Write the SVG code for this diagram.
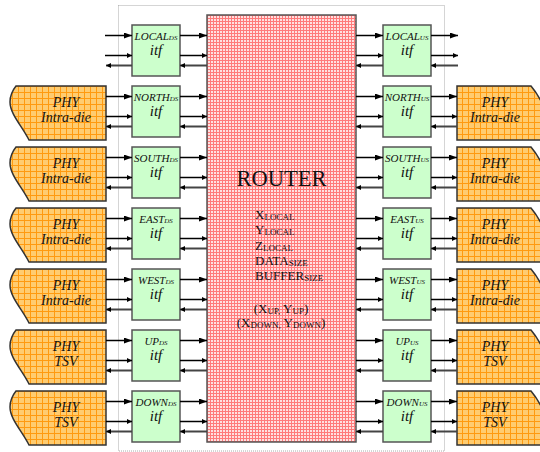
<svg xmlns="http://www.w3.org/2000/svg" xmlns:xlink="http://www.w3.org/1999/xlink" width="540" height="452" viewBox="0 0 540 452">
<style>
.itf rect{fill:#ccffcc;stroke:#555;stroke-width:1.5}
.lbl{font-family:"Liberation Serif","Times New Roman",serif;font-style:italic;font-size:11px;fill:#111;text-anchor:middle}
.lbl .s{font-size:7px}
.itft{font-family:"Liberation Serif","Times New Roman",serif;font-style:italic;font-size:15px;fill:#111;text-anchor:middle}
.phy path{fill:url(#pg);stroke:#333;stroke-width:1.5}
.pt{font-family:"Liberation Serif","Times New Roman",serif;font-style:italic;font-size:14px;fill:#111;text-anchor:middle}
.rt{font-family:"Liberation Serif","Times New Roman",serif;fill:#111}
.rt .s{font-size:9px}
.a1{stroke:#000;stroke-width:1.5;marker-end:url(#mb)}
.a2{stroke:#000;stroke-width:1.5;marker-end:url(#ms)}
.a3{stroke:#444;stroke-width:2;marker-end:url(#ms)}
</style>
<defs>
<pattern id="pg" width="6" height="6" patternUnits="userSpaceOnUse"><rect width="6" height="6" fill="#ffcc70"/><path d="M0,0.5H6M0.5,0V6" stroke="#ff9a10" stroke-width="1"/></pattern>
<pattern id="pr" width="3" height="3" patternUnits="userSpaceOnUse"><rect width="3" height="3" fill="#ffe0e0"/><path d="M0,0.5H3M0.5,0V3" stroke="#ff7a7a" stroke-width="1"/></pattern>
<marker id="mb" viewBox="0 0 8 6" refX="8" refY="3" markerWidth="8" markerHeight="6" markerUnits="userSpaceOnUse" orient="auto"><path d="M0,0L8,3L0,6z" fill="#000"/></marker>
<marker id="ms" viewBox="0 0 5 5" refX="5" refY="2.5" markerWidth="5" markerHeight="5" markerUnits="userSpaceOnUse" orient="auto"><path d="M0,0L5,2.5L0,5z" fill="#000"/></marker>
</defs>
<rect x="118.5" y="5.5" width="326" height="445.5" fill="none" stroke="#aaa" stroke-width="1" stroke-dasharray="1,1"/>
<g id="router">
<rect x="207" y="15" width="149" height="427" fill="url(#pr)" stroke="#555" stroke-width="1.5"/>
<text class="rt" x="281.5" y="186" font-size="22.5" text-anchor="middle">ROUTER</text>
<text class="rt" font-size="13"><tspan x="255" y="219">X<tspan class="s" dy="1">LOCAL</tspan></tspan><tspan x="255" y="234">Y<tspan class="s" dy="1">LOCAL</tspan></tspan><tspan x="255" y="249.5">Z<tspan class="s" dy="1">LOCAL</tspan></tspan><tspan x="255" y="265">DATA<tspan class="s" dy="1">SIZE</tspan></tspan><tspan x="255" y="280">BUFFER<tspan class="s" dy="1">SIZE</tspan></tspan></text>
<text class="rt" font-size="13" x="281" y="312.5" text-anchor="middle">(X<tspan class="s" dy="1">UP,</tspan><tspan dy="-1"> Y</tspan><tspan class="s" dy="1">UP</tspan><tspan dy="-1">)</tspan></text>
<text class="rt" font-size="13" x="281" y="327" text-anchor="middle">(X<tspan class="s" dy="1">DOWN,</tspan><tspan dy="-1"> Y</tspan><tspan class="s" dy="1">DOWN</tspan><tspan dy="-1">)</tspan></text>
</g>
<g id="itf-local-ds" class="itf" transform="translate(0,25)"><rect x="132" y="0" width="48" height="51"/><text class="lbl" x="156" y="14.5">LOCAL<tspan class="s">DS</tspan></text><text class="itft" x="156" y="29.5">itf</text></g>
<g id="itf-north-ds" class="itf" transform="translate(0,86)"><rect x="132" y="0" width="48" height="51"/><text class="lbl" x="156" y="14.5">NORTH<tspan class="s">DS</tspan></text><text class="itft" x="156" y="29.5">itf</text></g>
<g id="itf-south-ds" class="itf" transform="translate(0,147)"><rect x="132" y="0" width="48" height="51"/><text class="lbl" x="156" y="14.5">SOUTH<tspan class="s">DS</tspan></text><text class="itft" x="156" y="29.5">itf</text></g>
<g id="itf-east-ds" class="itf" transform="translate(0,208)"><rect x="132" y="0" width="48" height="51"/><text class="lbl" x="156" y="14.5">EAST<tspan class="s">DS</tspan></text><text class="itft" x="156" y="29.5">itf</text></g>
<g id="itf-west-ds" class="itf" transform="translate(0,269)"><rect x="132" y="0" width="48" height="51"/><text class="lbl" x="156" y="14.5">WEST<tspan class="s">DS</tspan></text><text class="itft" x="156" y="29.5">itf</text></g>
<g id="itf-up-ds" class="itf" transform="translate(0,330)"><rect x="132" y="0" width="48" height="51"/><text class="lbl" x="156" y="14.5">UP<tspan class="s">DS</tspan></text><text class="itft" x="156" y="29.5">itf</text></g>
<g id="itf-down-ds" class="itf" transform="translate(0,391)"><rect x="132" y="0" width="48" height="51"/><text class="lbl" x="156" y="14.5">DOWN<tspan class="s">DS</tspan></text><text class="itft" x="156" y="29.5">itf</text></g>
<g id="itf-local-us" class="itf" transform="translate(0,25)"><rect x="383" y="0" width="48" height="51"/><text class="lbl" x="407" y="14.5">LOCAL<tspan class="s">US</tspan></text><text class="itft" x="407" y="29.5">itf</text></g>
<g id="itf-north-us" class="itf" transform="translate(0,86)"><rect x="383" y="0" width="48" height="51"/><text class="lbl" x="407" y="14.5">NORTH<tspan class="s">US</tspan></text><text class="itft" x="407" y="29.5">itf</text></g>
<g id="itf-south-us" class="itf" transform="translate(0,147)"><rect x="383" y="0" width="48" height="51"/><text class="lbl" x="407" y="14.5">SOUTH<tspan class="s">US</tspan></text><text class="itft" x="407" y="29.5">itf</text></g>
<g id="itf-east-us" class="itf" transform="translate(0,208)"><rect x="383" y="0" width="48" height="51"/><text class="lbl" x="407" y="14.5">EAST<tspan class="s">US</tspan></text><text class="itft" x="407" y="29.5">itf</text></g>
<g id="itf-west-us" class="itf" transform="translate(0,269)"><rect x="383" y="0" width="48" height="51"/><text class="lbl" x="407" y="14.5">WEST<tspan class="s">US</tspan></text><text class="itft" x="407" y="29.5">itf</text></g>
<g id="itf-up-us" class="itf" transform="translate(0,330)"><rect x="383" y="0" width="48" height="51"/><text class="lbl" x="407" y="14.5">UP<tspan class="s">US</tspan></text><text class="itft" x="407" y="29.5">itf</text></g>
<g id="itf-down-us" class="itf" transform="translate(0,391)"><rect x="383" y="0" width="48" height="51"/><text class="lbl" x="407" y="14.5">DOWN<tspan class="s">US</tspan></text><text class="itft" x="407" y="29.5">itf</text></g>
<g id="phy-north-l" class="phy" transform="translate(0,86)"><path d="M16,0H106V54H29C22,40 10,28 10,16C10,10 12,5 16,0Z"/><text class="pt" x="66" y="20.5">PHY</text><text class="pt" x="66" y="36">Intra-die</text></g>
<g id="phy-south-l" class="phy" transform="translate(0,147)"><path d="M16,0H106V54H29C22,40 10,28 10,16C10,10 12,5 16,0Z"/><text class="pt" x="66" y="20.5">PHY</text><text class="pt" x="66" y="36">Intra-die</text></g>
<g id="phy-east-l" class="phy" transform="translate(0,208)"><path d="M16,0H106V54H29C22,40 10,28 10,16C10,10 12,5 16,0Z"/><text class="pt" x="66" y="20.5">PHY</text><text class="pt" x="66" y="36">Intra-die</text></g>
<g id="phy-west-l" class="phy" transform="translate(0,269)"><path d="M16,0H106V54H29C22,40 10,28 10,16C10,10 12,5 16,0Z"/><text class="pt" x="66" y="20.5">PHY</text><text class="pt" x="66" y="36">Intra-die</text></g>
<g id="phy-up-l" class="phy" transform="translate(0,330)"><path d="M16,0H106V54H29C22,40 10,28 10,16C10,10 12,5 16,0Z"/><text class="pt" x="66" y="20.5">PHY</text><text class="pt" x="66" y="36">TSV</text></g>
<g id="phy-down-l" class="phy" transform="translate(0,391)"><path d="M16,0H106V54H29C22,40 10,28 10,16C10,10 12,5 16,0Z"/><text class="pt" x="66" y="20.5">PHY</text><text class="pt" x="66" y="36">TSV</text></g>
<g id="phy-north-r" class="phy" transform="translate(0,86)"><path d="M457,0H531C536,6 541,14 544,22C548,34 552,44 556,54H457Z"/><text class="pt" x="495" y="20.5">PHY</text><text class="pt" x="495" y="36">Intra-die</text></g>
<g id="phy-south-r" class="phy" transform="translate(0,147)"><path d="M457,0H531C536,6 541,14 544,22C548,34 552,44 556,54H457Z"/><text class="pt" x="495" y="20.5">PHY</text><text class="pt" x="495" y="36">Intra-die</text></g>
<g id="phy-east-r" class="phy" transform="translate(0,208)"><path d="M457,0H531C536,6 541,14 544,22C548,34 552,44 556,54H457Z"/><text class="pt" x="495" y="20.5">PHY</text><text class="pt" x="495" y="36">Intra-die</text></g>
<g id="phy-west-r" class="phy" transform="translate(0,269)"><path d="M457,0H531C536,6 541,14 544,22C548,34 552,44 556,54H457Z"/><text class="pt" x="495" y="20.5">PHY</text><text class="pt" x="495" y="36">Intra-die</text></g>
<g id="phy-up-r" class="phy" transform="translate(0,330)"><path d="M457,0H531C536,6 541,14 544,22C548,34 552,44 556,54H457Z"/><text class="pt" x="495" y="20.5">PHY</text><text class="pt" x="495" y="36">TSV</text></g>
<g id="phy-down-r" class="phy" transform="translate(0,391)"><path d="M457,0H531C536,6 541,14 544,22C548,34 552,44 556,54H457Z"/><text class="pt" x="495" y="20.5">PHY</text><text class="pt" x="495" y="36">TSV</text></g>
<g id="connectors">
<line class="a1" x1="105" y1="35.5" x2="132" y2="35.5"/><line class="a1" x1="180" y1="35.5" x2="207" y2="35.5"/><line class="a2" x1="105" y1="55.5" x2="132" y2="55.5"/><line class="a2" x1="180" y1="55.5" x2="207" y2="55.5"/><line class="a3" x1="132" y1="65.5" x2="106" y2="65.5"/><line class="a3" x1="207" y1="65.5" x2="180" y2="65.5"/>
<line class="a1" x1="356" y1="35.5" x2="383" y2="35.5"/><line class="a1" x1="431" y1="35.5" x2="458" y2="35.5"/><line class="a2" x1="356" y1="55.5" x2="383" y2="55.5"/><line class="a2" x1="431" y1="55.5" x2="458" y2="55.5"/><line class="a3" x1="458" y1="65.5" x2="431" y2="65.5"/><line class="a3" x1="383" y1="65.5" x2="356" y2="65.5"/>
<line class="a1" x1="106" y1="96.5" x2="132" y2="96.5"/><line class="a1" x1="180" y1="96.5" x2="207" y2="96.5"/><line class="a2" x1="106" y1="116.5" x2="132" y2="116.5"/><line class="a2" x1="180" y1="116.5" x2="207" y2="116.5"/><line class="a3" x1="132" y1="126.5" x2="106" y2="126.5"/><line class="a3" x1="207" y1="126.5" x2="180" y2="126.5"/>
<line class="a1" x1="356" y1="96.5" x2="383" y2="96.5"/><line class="a1" x1="431" y1="96.5" x2="457" y2="96.5"/><line class="a2" x1="356" y1="116.5" x2="383" y2="116.5"/><line class="a2" x1="431" y1="116.5" x2="457" y2="116.5"/><line class="a3" x1="457" y1="126.5" x2="431" y2="126.5"/><line class="a3" x1="383" y1="126.5" x2="356" y2="126.5"/>
<line class="a1" x1="106" y1="157.5" x2="132" y2="157.5"/><line class="a1" x1="180" y1="157.5" x2="207" y2="157.5"/><line class="a2" x1="106" y1="177.5" x2="132" y2="177.5"/><line class="a2" x1="180" y1="177.5" x2="207" y2="177.5"/><line class="a3" x1="132" y1="187.5" x2="106" y2="187.5"/><line class="a3" x1="207" y1="187.5" x2="180" y2="187.5"/>
<line class="a1" x1="356" y1="157.5" x2="383" y2="157.5"/><line class="a1" x1="431" y1="157.5" x2="457" y2="157.5"/><line class="a2" x1="356" y1="177.5" x2="383" y2="177.5"/><line class="a2" x1="431" y1="177.5" x2="457" y2="177.5"/><line class="a3" x1="457" y1="187.5" x2="431" y2="187.5"/><line class="a3" x1="383" y1="187.5" x2="356" y2="187.5"/>
<line class="a1" x1="106" y1="218.5" x2="132" y2="218.5"/><line class="a1" x1="180" y1="218.5" x2="207" y2="218.5"/><line class="a2" x1="106" y1="238.5" x2="132" y2="238.5"/><line class="a2" x1="180" y1="238.5" x2="207" y2="238.5"/><line class="a3" x1="132" y1="248.5" x2="106" y2="248.5"/><line class="a3" x1="207" y1="248.5" x2="180" y2="248.5"/>
<line class="a1" x1="356" y1="218.5" x2="383" y2="218.5"/><line class="a1" x1="431" y1="218.5" x2="457" y2="218.5"/><line class="a2" x1="356" y1="238.5" x2="383" y2="238.5"/><line class="a2" x1="431" y1="238.5" x2="457" y2="238.5"/><line class="a3" x1="457" y1="248.5" x2="431" y2="248.5"/><line class="a3" x1="383" y1="248.5" x2="356" y2="248.5"/>
<line class="a1" x1="106" y1="279.5" x2="132" y2="279.5"/><line class="a1" x1="180" y1="279.5" x2="207" y2="279.5"/><line class="a2" x1="106" y1="299.5" x2="132" y2="299.5"/><line class="a2" x1="180" y1="299.5" x2="207" y2="299.5"/><line class="a3" x1="132" y1="309.5" x2="106" y2="309.5"/><line class="a3" x1="207" y1="309.5" x2="180" y2="309.5"/>
<line class="a1" x1="356" y1="279.5" x2="383" y2="279.5"/><line class="a1" x1="431" y1="279.5" x2="457" y2="279.5"/><line class="a2" x1="356" y1="299.5" x2="383" y2="299.5"/><line class="a2" x1="431" y1="299.5" x2="457" y2="299.5"/><line class="a3" x1="457" y1="309.5" x2="431" y2="309.5"/><line class="a3" x1="383" y1="309.5" x2="356" y2="309.5"/>
<line class="a1" x1="106" y1="340.5" x2="132" y2="340.5"/><line class="a1" x1="180" y1="340.5" x2="207" y2="340.5"/><line class="a2" x1="106" y1="360.5" x2="132" y2="360.5"/><line class="a2" x1="180" y1="360.5" x2="207" y2="360.5"/><line class="a3" x1="132" y1="370.5" x2="106" y2="370.5"/><line class="a3" x1="207" y1="370.5" x2="180" y2="370.5"/>
<line class="a1" x1="356" y1="340.5" x2="383" y2="340.5"/><line class="a1" x1="431" y1="340.5" x2="457" y2="340.5"/><line class="a2" x1="356" y1="360.5" x2="383" y2="360.5"/><line class="a2" x1="431" y1="360.5" x2="457" y2="360.5"/><line class="a3" x1="457" y1="370.5" x2="431" y2="370.5"/><line class="a3" x1="383" y1="370.5" x2="356" y2="370.5"/>
<line class="a1" x1="106" y1="401.5" x2="132" y2="401.5"/><line class="a1" x1="180" y1="401.5" x2="207" y2="401.5"/><line class="a2" x1="106" y1="421.5" x2="132" y2="421.5"/><line class="a2" x1="180" y1="421.5" x2="207" y2="421.5"/><line class="a3" x1="132" y1="431.5" x2="106" y2="431.5"/><line class="a3" x1="207" y1="431.5" x2="180" y2="431.5"/>
<line class="a1" x1="356" y1="401.5" x2="383" y2="401.5"/><line class="a1" x1="431" y1="401.5" x2="457" y2="401.5"/><line class="a2" x1="356" y1="421.5" x2="383" y2="421.5"/><line class="a2" x1="431" y1="421.5" x2="457" y2="421.5"/><line class="a3" x1="457" y1="431.5" x2="431" y2="431.5"/><line class="a3" x1="383" y1="431.5" x2="356" y2="431.5"/>
</g>
</svg>
